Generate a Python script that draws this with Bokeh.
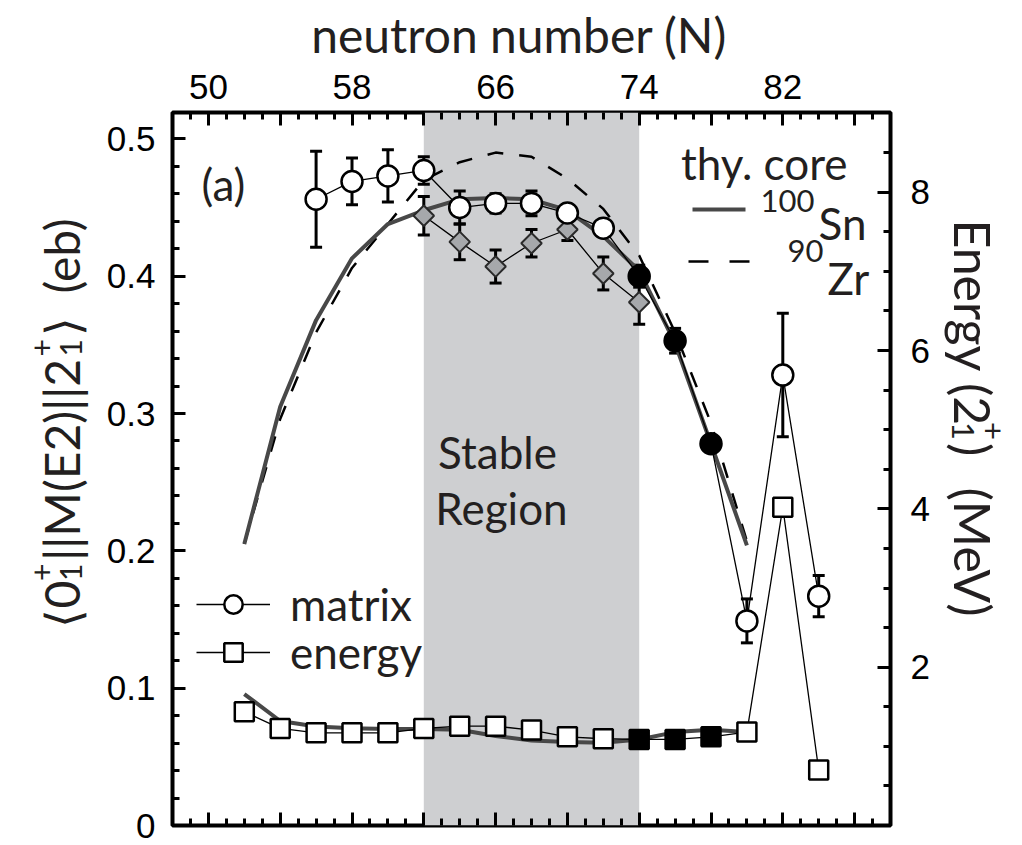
import numpy as np
from math import pi
from bokeh.plotting import figure
from bokeh.layouts import row
from bokeh.models import (Range1d, LinearAxis, FixedTicker, ColumnDataSource, Whisker, TeeHead,
                          BoxAnnotation, Label, Legend, LegendItem)
from bokeh.embed import file_html
from bokeh.resources import INLINE

# ---------------- data ----------------
# reduced E2 matrix elements <0+||M(E2)||2+> (eb)
N_me_open = [56, 58, 60, 62, 64, 66, 68, 70, 72, 80, 82, 84]
me_open = [0.456, 0.469, 0.473, 0.477, 0.450, 0.453, 0.453, 0.446, 0.435, 0.149, 0.328, 0.167]
me_open_err = [0.035, 0.017, 0.019, 0.010, 0.012, 0.007, 0.009, 0.004, 0.003, 0.016, 0.045, 0.015]
N_me_new = [74, 76, 78]
me_new = [0.400, 0.353, 0.278]
me_new_err = [0.008, 0.009, 0.004]
N_dia = [62, 64, 66, 68, 70, 72, 74]
me_dia = [0.444, 0.425, 0.407, 0.424, 0.434, 0.402, 0.381]
me_dia_err = [0.014, 0.013, 0.012, 0.010, 0.008, 0.012, 0.016]
# 2+ excitation energies (MeV)
N_E_open = [52, 54, 56, 58, 60, 62, 64, 66, 68, 70, 72, 80, 82, 84]
E_open = [1.436, 1.226, 1.171, 1.171, 1.171, 1.226, 1.255, 1.255, 1.205, 1.120, 1.096, 1.180, 4.020, 0.700]
N_E_new = [74, 76, 78]
E_new = [1.087, 1.087, 1.120]
# theory curves
N_thy = [52, 54, 56, 58, 60, 62, 64, 66, 68, 70, 72, 74, 76, 78, 80]
thy_sn_me = [0.205, 0.305, 0.368, 0.413, 0.438, 0.448, 0.456, 0.457, 0.456, 0.448, 0.429, 0.404, 0.351, 0.278, 0.204]
thy_zr_me = [0.205, 0.296, 0.359, 0.406, 0.438, 0.470, 0.483, 0.490, 0.487, 0.471, 0.449, 0.415, 0.359, 0.293, 0.207]
thy_sn_E = [1.66, 1.32, 1.25, 1.23, 1.22, 1.22, 1.21, 1.13, 1.074, 1.054, 1.045, 1.087, 1.18, 1.21, 1.18]
stable = [62, 74]
top_tick_labels = {50: "50", 58: "58", 66: "66", 74: "74", 82: "82"}
left_tick_labels = {0: "0", 0.1: "0.1", 0.2: "0.2", 0.3: "0.3", 0.4: "0.4", 0.5: "0.5"}
right_tick_labels = {2: "2", 4: "4", 6: "6", 8: "8"}

# ---------------- layout (global pixel geometry) ----------------
W, H = 1022, 845
LS, RS = 92, 90                  # left / right text strips
FL, FR, FT, FB = 172, 890, 112, 825
X0, X1, Y0, Y1 = 48, 88, 0.0, 0.5192
E1 = 9.007
TXT = "#231f20"


def dx(px):
    return X0 + (px - FL) * (X1 - X0) / (FR - FL)


def dy(py):
    return Y0 + (FB - py) * (Y1 - Y0) / (FB - FT)


def strip(w, xr):
    # same top/bottom borders as the main plot, so the frames line up; y in page pixels
    f = figure(width=w, height=H, output_backend="svg", toolbar_location=None, title=None,
               x_range=xr, y_range=Range1d(FB, FT), x_axis_location=None, y_axis_location=None,
               min_border_left=0, min_border_right=0, min_border_top=FT, min_border_bottom=H - FB)
    f.outline_line_color = None
    f.background_fill_color = "white"
    f.border_fill_color = "white"
    f.grid.visible = False
    return f


p = figure(width=W - LS - RS, height=H, output_backend="svg", toolbar_location=None, title=None,
           x_range=Range1d(X0, X1), y_range=Range1d(Y0, Y1),
           x_axis_location=None, y_axis_location=None,
           min_border_left=FL - LS, min_border_right=(W - RS) - FR,
           min_border_top=FT, min_border_bottom=H - FB)
p.extra_y_ranges = {"E": Range1d(0, E1)}
p.outline_line_color = "black"
p.outline_line_width = 4
p.background_fill_color = "white"
p.border_fill_color = "white"
p.grid.visible = False


def style_axis(ax, size="35px", standoff=17):
    ax.axis_line_color = None
    ax.major_tick_in = 13
    ax.major_tick_out = 0
    ax.minor_tick_in = 7
    ax.minor_tick_out = 0
    ax.major_tick_line_width = 3
    ax.minor_tick_line_width = 3
    ax.major_tick_line_color = "black"
    ax.minor_tick_line_color = "black"
    ax.major_label_text_font = "Liberation Sans"
    ax.major_label_text_font_size = size
    ax.major_label_text_color = "black"
    ax.major_label_standoff = standoff


x_major = list(range(50, 88, 4))
x_minor = list(range(48, 89))
top = LinearAxis(ticker=FixedTicker(ticks=x_major, minor_ticks=x_minor))
style_axis(top, standoff=14)
top.major_label_overrides = {t: top_tick_labels.get(t, "") for t in x_major}
top.axis_label = "neutron number (N)\u00a0\u00a0"
top.axis_label_text_font = "Lato"
top.axis_label_text_font_size = "48px"
top.axis_label_text_font_style = "normal"
top.axis_label_text_color = TXT
top.axis_label_standoff = 9
p.add_layout(top, "above")

bot = LinearAxis(ticker=FixedTicker(ticks=x_major, minor_ticks=x_minor))
style_axis(bot, size="8px", standoff=0)
bot.major_label_overrides = {t: "" for t in x_major}
p.add_layout(bot, "below")

left = LinearAxis(ticker=FixedTicker(ticks=list(left_tick_labels.keys()),
                                     minor_ticks=list(np.round(np.arange(0, 0.52, 0.02), 2))))
style_axis(left, standoff=17)
left.major_label_overrides = left_tick_labels
p.add_layout(left, "left")

right = LinearAxis(y_range_name="E", ticker=FixedTicker(ticks=list(right_tick_labels.keys()),
                                                         minor_ticks=list(np.arange(0.5, 9.0, 0.5))))
style_axis(right, standoff=20)
right.major_label_overrides = right_tick_labels
p.add_layout(right, "right")

# stable region
p.add_layout(BoxAnnotation(left=stable[0], right=stable[1], fill_color="#cecfd1", fill_alpha=1.0,
                           line_color=None, level="image"))

# theory curves
p.line(N_thy, thy_zr_me, line_color="black", line_width=2.5, line_dash="16 16")
p.line(N_thy, thy_sn_me, line_color="#484848", line_width=4)
p.line(N_thy, thy_sn_E, y_range_name="E", line_color="#484848", line_width=4)

# connecting lines
me_pairs = sorted(zip(N_me_open + N_me_new, me_open + me_new))
E_pairs = sorted(zip(N_E_open + N_E_new, E_open + E_new))
line_me = p.line([a for a, b in me_pairs], [b for a, b in me_pairs], line_color="black", line_width=1.3)
line_E = p.line([a for a, b in E_pairs], [b for a, b in E_pairs], y_range_name="E",
                line_color="black", line_width=1.3)
p.line(N_dia, me_dia, line_color="black", line_width=1.3)


def whiskers(xs, ys, es):
    src = ColumnDataSource(dict(x=xs, lo=[y - e for y, e in zip(ys, es)], hi=[y + e for y, e in zip(ys, es)]))
    w = Whisker(source=src, base="x", lower="lo", upper="hi", line_width=3, line_color="black",
                upper_head=TeeHead(size=12, line_width=3, line_color="black"),
                lower_head=TeeHead(size=12, line_width=3, line_color="black"), level="underlay")
    p.add_layout(w)


whiskers(N_me_open, me_open, me_open_err)
whiskers(N_me_new, me_new, me_new_err)
whiskers(N_dia, me_dia, me_dia_err)

# markers
p.scatter(N_dia, me_dia, marker="square", angle=pi / 4, size=14.5, fill_color="#a6a8ab",
          line_color="#2a2a2a", line_width=2)
sc_me = p.scatter(N_me_open, me_open, marker="circle", size=21, fill_color="white",
                  line_color="black", line_width=2.5)
p.scatter(N_me_new, me_new, marker="circle", size=21, fill_color="black", line_color="black", line_width=2.5)
sc_E = p.scatter(N_E_open, E_open, y_range_name="E", marker="square", size=19, fill_color="white",
                 line_color="black", line_width=2.5)
p.scatter(N_E_new, E_new, y_range_name="E", marker="square", size=19, fill_color="black",
          line_color="black", line_width=2.5)


# legend (matrix / energy): one legend per row for exact placement
def legend(label, rends, vy):
    lg = Legend(items=[LegendItem(label=label, renderers=rends)],
                location=(24, vy), padding=0, spacing=0, glyph_width=74, glyph_height=46,
                label_height=46, label_standoff=20, border_line_color=None, background_fill_alpha=0,
                label_text_font="Lato", label_text_font_size="44px", label_text_color=TXT)
    p.add_layout(lg)


legend("matrix", [line_me, sc_me], 195)
legend("energy", [line_E, sc_E], 147)

# theory legend samples
p.segment(x0=[dx(692)], y0=[dy(209)], x1=[dx(745)], y1=[dy(209)], line_color="#484848", line_width=4)
p.segment(x0=[dx(688)], y0=[dy(261)], x1=[dx(752)], y1=[dy(261)], line_color="black", line_width=2.5,
          line_dash="20 21")


def lab(fig, text, x, y, size, align="left", baseline="alphabetic", angle=0.0, font="Lato"):
    fig.add_layout(Label(x=x, y=y, text=text, text_font=font, text_font_size=f"{size}px",
                         text_align=align, text_baseline=baseline, angle=angle, text_color=TXT))


def mlab(text, px, py, size, **kw):
    lab(p, text, dx(px), dy(py), size, **kw)


mlab("(a)", 201, 183, 44)
mlab("thy. core", 847, 162, 44, align="right")
mlab("100", 760, 200, 31)
mlab("Sn", 818, 222, 44)
mlab("90", 787, 250, 31)
mlab("Zr", 827, 277, 44)
mlab("Stable", 497, 451, 44, align="center")
mlab("Region", 501, 507, 44, align="center")

# ---------------- rotated axis titles in side strips ----------------
left_strip = strip(LS, Range1d(0, LS))
right_strip = strip(RS, Range1d(W - RS, W))

# approximate Lato advance widths (em)
LW = {"0": .58, "1": .58, "2": .58, "+": .58, "(": .292, ")": .292, "M": .905, "E": .566,
      "e": .511, "b": .553, "n": .553, "r": .356, "g": .497, "y": .5, "V": .681, "|": .26,
      " ": .193, "\u27e8": .39, "\u27e9": .39}


def tw(s, size):
    return sum(LW.get(c, .55) for c in s) * size


def rotated(fig, pieces, start, base, F, up):
    """up=+1: reads bottom->top (left title); up=-1: reads top->bottom (right title)."""
    ang = pi / 2 if up > 0 else -pi / 2
    pos = start
    sF = 0.62 * F
    for kind, *t in pieces:
        if kind == "t":
            lab(fig, t[0], base, pos, F, angle=ang)
            pos -= up * tw(t[0], F)
        elif kind == "gap":
            pos -= up * t[0]
        else:  # script pair: superscript, subscript
            sup, sub = t
            lab(fig, sup, base - up * 0.40 * F, pos, round(sF), angle=ang)
            lab(fig, sub, base + up * 0.20 * F, pos, round(sF), angle=ang)
            pos -= up * (max(tw(sup, sF), tw(sub, sF)) + 3)


rotated(left_strip, [("t", "\u27e80"), ("s", "+", "1"), ("t", "||M(E2)||2"), ("s", "+", "1"),
                     ("t", "\u27e9"), ("gap", 24), ("t", "(eb)")], start=627, base=61, F=48, up=1)
rotated(right_strip, [("t", "Energy (2"), ("s", "+", "1"), ("t", ")"), ("gap", 30), ("t", "(MeV)")],
        start=219, base=972, F=50, up=-1)

layout = row(left_strip, p, right_strip)
open("out.html", "w").write(file_html(layout, INLINE))
